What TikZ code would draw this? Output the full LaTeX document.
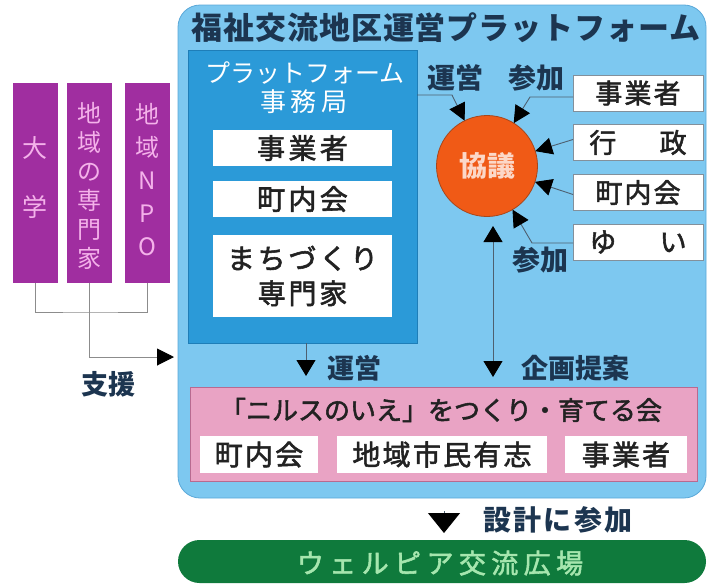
\documentclass[tikz,border=0pt]{standalone}
\usepackage{fontspec}
\setmainfont{Noto Sans CJK JP}
\usetikzlibrary{arrows.meta,calc}
\definecolor{skyb}{HTML}{7DC8F0}
\definecolor{skyline}{HTML}{5AA8D8}
\definecolor{midb}{HTML}{2B9AD8}
\definecolor{midbline}{HTML}{1E7EB8}
\definecolor{purp}{HTML}{A02EA0}
\definecolor{purptxt}{HTML}{F4B2EA}
\definecolor{pinkf}{HTML}{E9A3C4}
\definecolor{pinkline}{HTML}{B86A90}
\definecolor{orng}{HTML}{F05A16}
\definecolor{orngline}{HTML}{A8461A}
\definecolor{orngtxt}{HTML}{FCD8C8}
\definecolor{grn}{HTML}{0F7A3C}
\definecolor{grntxt}{HTML}{A6E6AE}
\definecolor{navy}{HTML}{1C3550}
\definecolor{conn}{HTML}{4E6070}
\definecolor{boxtxt}{HTML}{222222}
\newcommand\fsz[1]{\fontsize{#1}{#1}\selectfont}
\newcommand\lsp[1]{\addfontfeatures{LetterSpace=#1}}
\newcommand\fb{\addfontfeatures{FakeBold=2}}
\begin{document}
\begin{tikzpicture}[x=1pt,y=-1pt,
  every node/.style={inner sep=0pt, outer sep=0pt, font=\fsz{26}},
  outerbox/.style={fill=skyb, draw=skyline, line width=0.8pt, rounded corners=22pt},
  jimbox/.style={fill=midb, draw=midbline, line width=0.8pt},
  wbox/.style={fill=white, text=boxtxt, font=\fsz{28}\fb},
  rbox/.style={fill=white, draw=conn!70, line width=0.6pt, text=boxtxt, font=\fsz{27}\fb, minimum width=130pt, minimum height=36pt},
  pbox/.style={fill=purp, minimum width=45pt, minimum height=200pt},
  ptxt/.style={text=purptxt, align=center},
  pinkbox/.style={fill=pinkf, draw=pinkline, line width=0.8pt},
  lbl/.style={text=navy, font=\fsz{27}\bfseries},
  tipc/.style={-{Triangle[length=17pt,width=17pt,color=black]}},
  carr/.style={draw=conn, line width=0.9pt, tipc},
  barr/.style={draw=conn, line width=0.9pt, -{Triangle[length=16pt,width=19pt,color=black]}},
  pline/.style={draw=black!45, line width=1pt},
  parr/.style={pline, -{Triangle[length=17pt,width=17pt,color=black]}}
]
\useasboundingbox (0,0) rectangle (708,584);

% outer platform
\node[outerbox, minimum width=528pt, minimum height=493pt] (plat) at (442,251.5) {};
\node[font=\fsz{31}\bfseries, text=navy] (ttl) at (446,28) {\lsp{3}福祉交流地区運営プラットフォーム};

% secretariat
\node[jimbox, minimum width=229pt, minimum height=293pt] (jim) at (302.5,196.5) {};
\node[text=white, font=\fsz{25}] (jt1) at (305,73) {プラットフォーム};
\node[text=white, font=\fsz{26}] (jt2) at (304,102) {\lsp{18}事務局};
\node[wbox, minimum width=179pt, minimum height=36pt] (j1) at (302.5,148) {\lsp{12}事業者};
\node[wbox, minimum width=179pt, minimum height=36pt] (j2) at (302.5,199) {\lsp{12}町内会};
\node[wbox, minimum width=179pt, minimum height=82pt, align=center, font=\fontsize{28}{35}\selectfont\fb] (j3) at (302.5,276) {\lsp{10}まちづくり\\\lsp{10}専門家};

% left supporters
\node[pbox] (p1) at (35,183) {};
\node[pbox] (p2) at (89.5,183) {};
\node[pbox] (p3) at (147.5,183) {};
\node[ptxt, font=\fontsize{25}{59}\selectfont] (pt1) at (35,178) {大\\学};
\node[ptxt, font=\fontsize{24}{29}\selectfont] (pt2) at (89.5,186) {地\\域\\の\\専\\門\\家};
\node[ptxt, font=\fontsize{24}{33}\selectfont] (pt3) at (147.5,180) {地\\域\\N\\P\\O};
\coordinate (pj) at (89.5,312);
\coordinate (sup) at (174,357);
\draw[pline] (p1.south) |- (pj) -| (p3.south);
\draw[pline] (p2.south) -- (pj);
\draw[parr] (pj) |- (sup);
\node[lbl, font=\fsz{27}\bfseries] (shien) at (108,384) {支援};

% council
\node[circle, fill=orng, draw=orngline, line width=0.8pt, minimum size=101pt, text=orngtxt, font=\fsz{28}\bfseries] (kyo) at (487,166) {協議};

% right participants
\node[rbox] (r1) at (638,93) {\lsp{8}事業者};
\node[rbox] (r2) at (638,142.5) {行\hspace{1.6em}政};
\node[rbox] (r3) at (638,192.5) {\lsp{8}町内会};
\node[rbox] (r4) at (638,242) {ゆ\hspace{1.6em}い};

\node[lbl, font=\fsz{28}\bfseries] (l1) at (455,78) {運営};
\node[lbl, font=\fsz{28}\bfseries] (l2) at (536,78) {参加};
\node[lbl, font=\fsz{28}\bfseries] (l3) at (540,260) {参加};

\draw[carr] ($(jim.north east)+(0,45)$) -- (452,95) -- (kyo);
\draw[carr] ($(r1.west)+(0,4)$) -- (530,97) -- (kyo);
\draw[carr] ($(r2.west)+(0,-3)$) -- (kyo);
\draw[carr] ($(r3.west)+(0,2)$) -- (kyo);
\draw[carr] ($(r4.west)+(0,1)$) -- (532,243) -- (kyo);

% downward links
\coordinate (va1) at (493,226);
\coordinate (va2) at (493,377);
\draw[draw=conn, line width=0.9pt, {Triangle[length=16pt,width=19pt,color=black]}-{Triangle[length=16pt,width=19pt,color=black]}] (va1) -- (va2);
\coordinate (ua) at (306,376);
\draw[barr] ($(jim.south)+(3.5,0)$) -- (ua);
\node[lbl] (l4) at (354,368) {運営};
\node[lbl] (l5) at (575,368) {企画提案};

% pink group
\node[pinkbox, minimum width=507pt, minimum height=94pt] (nils) at (443.5,434) {};
\node[text=boxtxt, font=\fsz{26}\fb] (nt) at (441,410) {「ニルスのいえ」をつくり・育てる会};
\node[wbox, minimum width=118pt, minimum height=37pt] (n1) at (259,454.5) {\lsp{8}町内会};
\node[wbox, minimum width=210pt, minimum height=37pt] (n2) at (442,454.5) {\lsp{8}地域市民有志};
\node[wbox, minimum width=122pt, minimum height=37pt] (n3) at (626,454.5) {\lsp{8}事業者};

% design participation
\coordinate (da1) at (444,511);
\coordinate (da2) at (444,533);
\draw[draw=conn, line width=0.9pt, -{Triangle[length=20pt,width=32pt,color=black]}] (da1) -- (da2);
\node[lbl, font=\fsz{28}\bfseries] (l6) at (558,520) {\lsp{8}設計に参加};

% plaza
\node[fill=grn, rounded corners=21.5pt, minimum width=528pt, minimum height=43pt] (wel) at (442,561.5) {};
\node[text=grntxt, font=\fsz{27}\fb] (welt) at (440,563) {\lsp{20}ウェルピア交流広場};
\end{tikzpicture}
\end{document}
